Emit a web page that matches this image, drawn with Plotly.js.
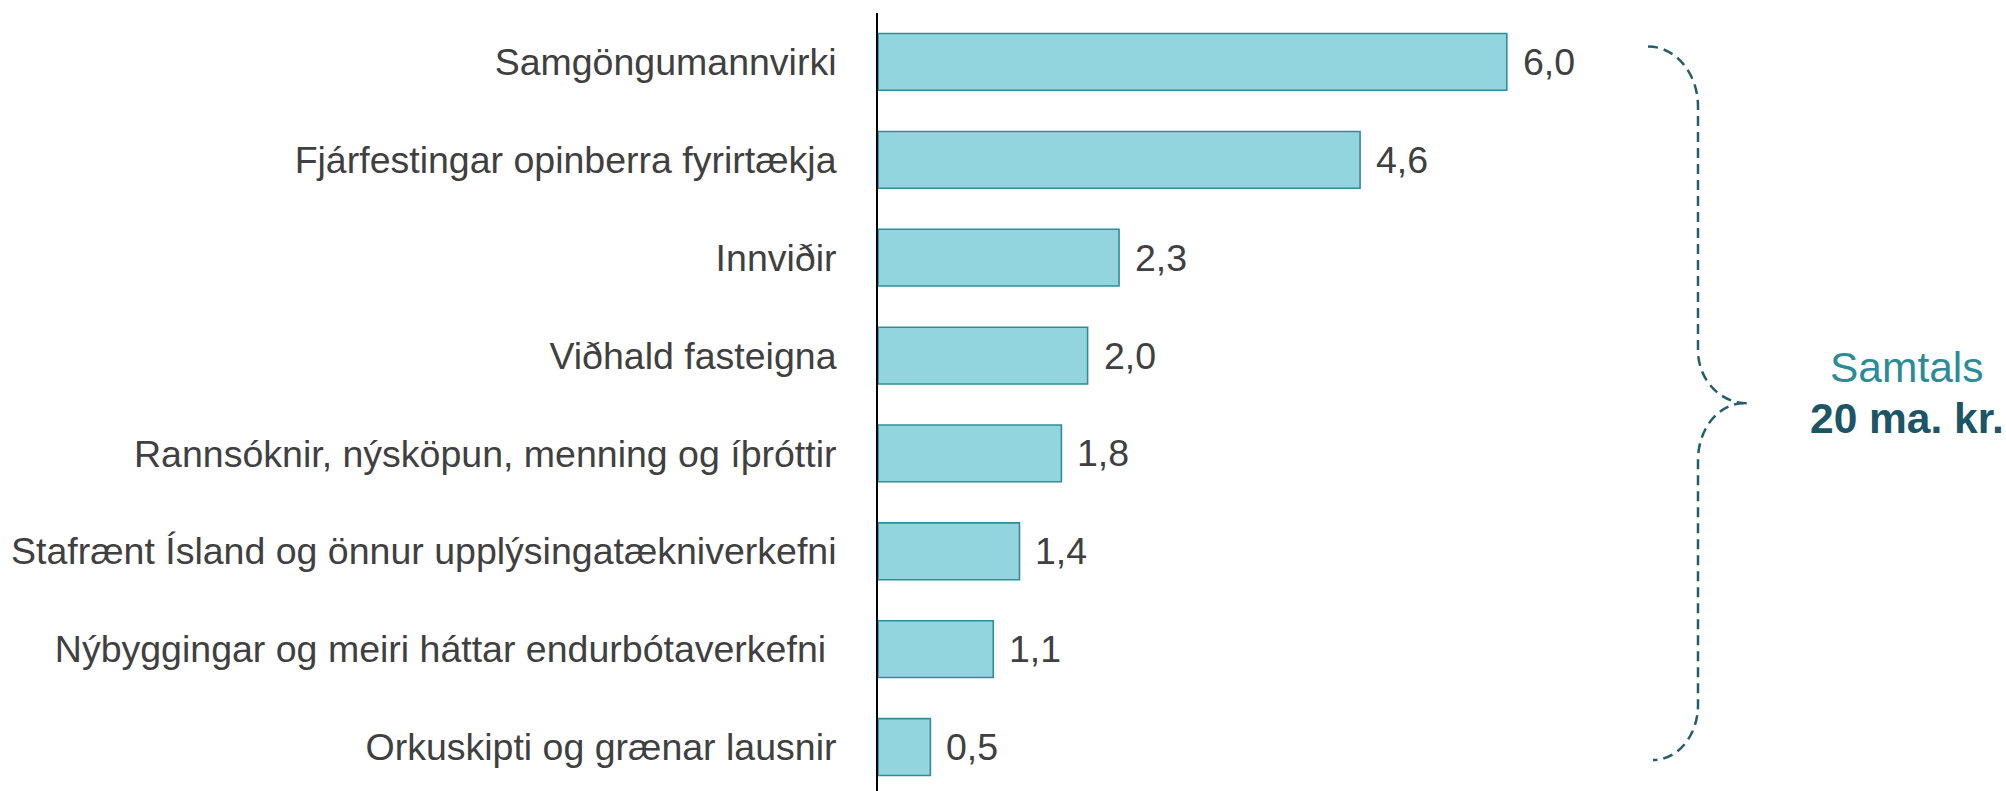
<!DOCTYPE html>
<html>
<head>
<meta charset="utf-8">
<script src="https://cdn.plot.ly/plotly-3.0.1.min.js"></script>
<style>html,body{margin:0;padding:0;background:#fff;}#chart{width:2006px;height:791px;}</style>
</head>
<body>
<div id="chart"></div>
<script>
const categories = [
  "Samgöngumannvirki",
  "Fjárfestingar opinberra fyrirtækja",
  "Innviðir",
  "Viðhald fasteigna",
  "Rannsóknir, nýsköpun, menning og íþróttir",
  "Stafrænt Ísland og önnur upplýsingatækniverkefni",
  "Nýbyggingar og meiri háttar endurbótaverkefni\u00a0",
  "Orkuskipti og grænar lausnir"
];
const values = [6.0, 4.6, 2.3, 2.0, 1.75, 1.35, 1.1, 0.5];
const valueLabels = ["6,0", "4,6", "2,3", "2,0", "1,8", "1,4", "1,1", "0,5"];
const totalLabel = "Samtals";
const totalValue = "20 ma. kr.";

const W = 2006, H = 791;
const M = {l: 878, r: 0, t: 12.5, b: 0};
const PW = W - M.l - M.r, PH = H - M.t - M.b;
const px = x => ((x - M.l) / PW).toFixed(5);
const py = y => ((H - M.b - y) / PH).toFixed(5);
function pathFrom(cmds) {
  return cmds.map(c => c[0] + ' ' + c.slice(1).reduce((a, v, i) => {
    if (i % 2 === 0) a.push(px(v)); else a[a.length - 1] += ',' + py(v);
    return a;
  }, []).join(' ')).join(' ');
}
const k = 0.5523;
const bracePath = pathFrom([
  ['M', 1648, 46],
  ['C', 1648 + 50 * k, 46, 1698, 106 - 60 * k, 1698, 106],
  ['L', 1698, 350],
  ['C', 1698, 350 + 53 * k, 1747 - 49 * k, 403, 1747, 403],
  ['M', 1744, 403],
  ['C', 1744 - 46 * k, 403, 1698, 460 - 57 * k, 1698, 460],
  ['L', 1698, 705],
  ['C', 1698, 705 + 55 * k, 1653 + 45 * k, 760, 1653, 760]
]);

const FONT = '"Liberation Sans", Arial, sans-serif';

const trace = {
  type: 'bar',
  orientation: 'h',
  x: values,
  y: categories,
  marker: {color: '#93d5df', line: {color: '#2e8e98', width: 1.6}},
  hoverinfo: 'skip'
};

const annotations = values.map((v, i) => ({
  x: v, y: categories[i], xref: 'x', yref: 'y',
  text: valueLabels[i], showarrow: false,
  xanchor: 'left', yanchor: 'middle', xshift: 14,
  font: {family: FONT, size: 37.5, color: '#404040'}
}));
annotations.push({
  xref: 'paper', yref: 'paper', x: +px(1907), y: +py(367),
  text: totalLabel, showarrow: false, xanchor: 'center', yanchor: 'middle',
  font: {family: FONT, size: 42.5, color: '#2c8c96'}
});
annotations.push({
  xref: 'paper', yref: 'paper', x: +px(1907), y: +py(418),
  text: '<b>' + totalValue + '</b>', showarrow: false, xanchor: 'center', yanchor: 'middle',
  font: {family: FONT, size: 42.5, color: '#1c5565'}
});

const layout = {
  width: W, height: H,
  margin: M,
  paper_bgcolor: '#fff', plot_bgcolor: '#fff',
  showlegend: false,
  bargap: 0.42,
  xaxis: {range: [0, PW / 104.8], showgrid: false, zeroline: false, showline: false,
          showticklabels: false, ticks: '', fixedrange: true},
  yaxis: {type: 'category', range: [7.449, -0.5], showgrid: false, zeroline: false,
          showline: true, linecolor: '#000', linewidth: 2, ticks: '',
          ticklabelstandoff: 32,
          tickfont: {family: FONT, size: 37.5, color: '#404040'}, fixedrange: true},
  annotations: annotations,
  shapes: [{type: 'path', xref: 'paper', yref: 'paper', path: bracePath,
            line: {color: '#235e6b', width: 2.5, dash: '10px,6px'}}]
};

Plotly.newPlot('chart', [trace], layout, {displayModeBar: false, staticPlot: true});
</script>
</body>
</html>
